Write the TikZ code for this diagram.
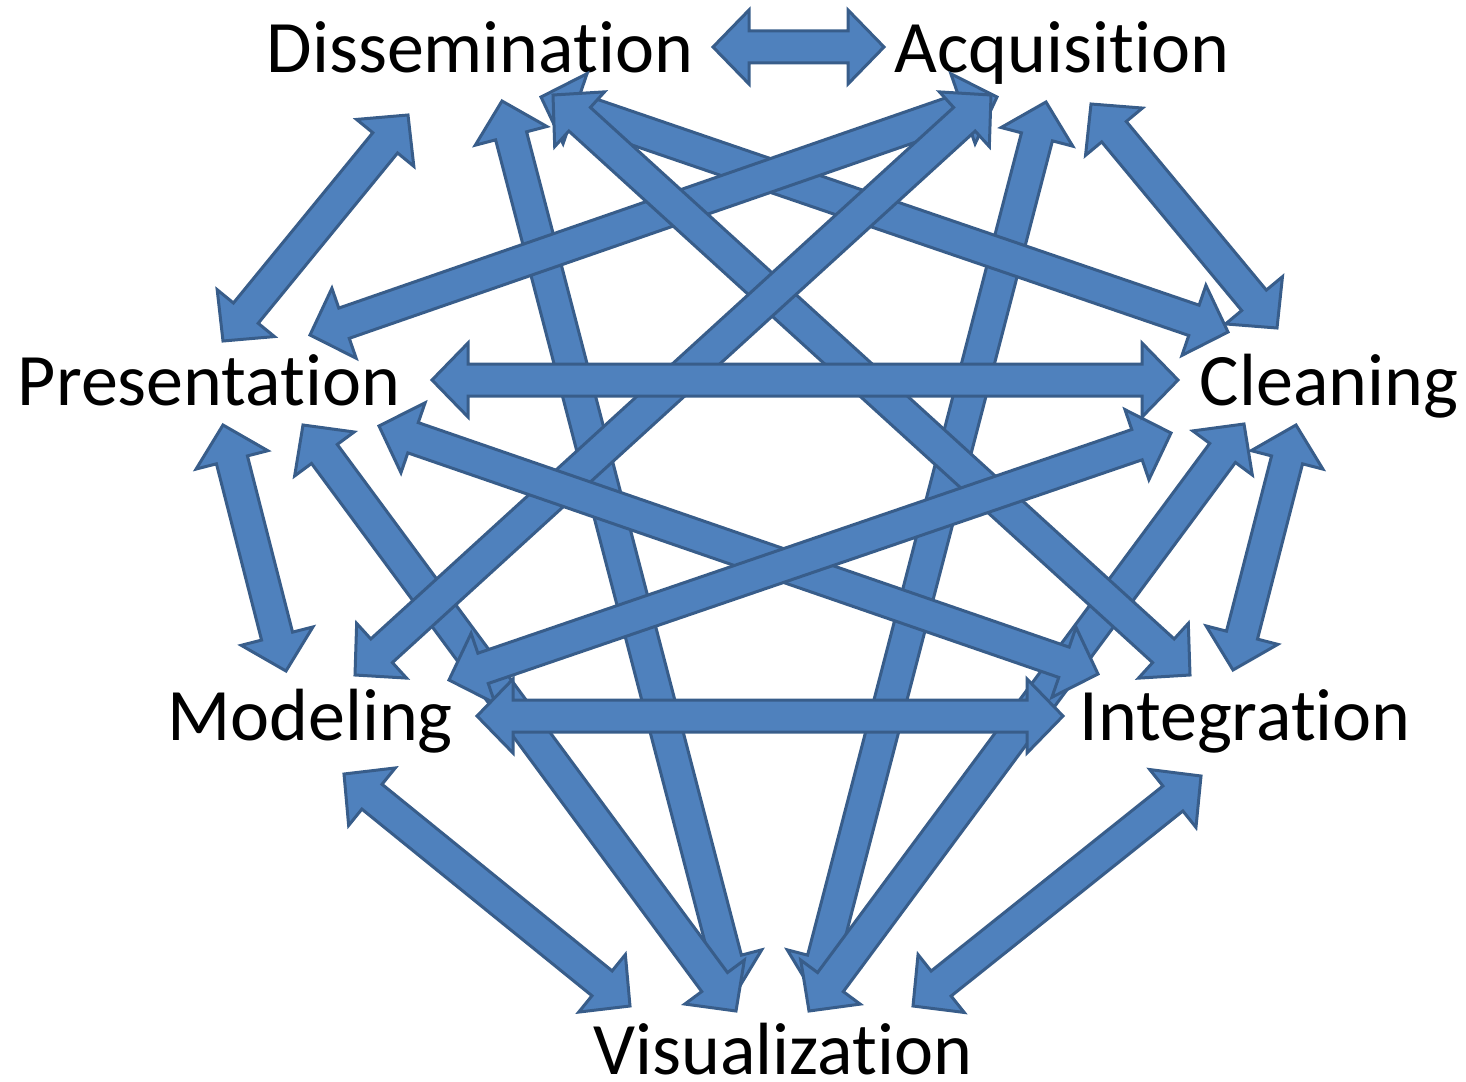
\documentclass[tikz,border=0pt]{standalone}
\usepackage{fontspec}
\setmainfont{Carlito}[Ligatures=NoCommon]
\usetikzlibrary{calc}
\definecolor{arrfill}{HTML}{4F81BD}
\definecolor{arrline}{HTML}{385D8A}
\tikzset{
  blockarrow/.style={fill=arrfill, draw=arrline, line width=3pt, line join=miter},
  lbl/.style={font=\fontsize{74}{88}\selectfont, anchor=base, inner sep=0pt}
}
\def\ahl{36pt}
\def\ahw{37pt}
\def\asw{16pt}
\newcommand\dblarr[2]{%
  \filldraw[blockarrow] (#1)
    -- ($(#1)!\ahl!(#2)!\ahw!90:(#2)$)
    -- ($(#1)!\ahl!(#2)!\asw!90:(#2)$)
    -- ($(#2)!\ahl!(#1)!\asw!-90:(#1)$)
    -- ($(#2)!\ahl!(#1)!\ahw!-90:(#1)$)
    -- (#2)
    -- ($(#2)!\ahl!(#1)!\ahw!90:(#1)$)
    -- ($(#2)!\ahl!(#1)!\asw!90:(#1)$)
    -- ($(#1)!\ahl!(#2)!\asw!-90:(#2)$)
    -- ($(#1)!\ahl!(#2)!\ahw!-90:(#2)$)
    -- cycle;}
\begin{document}
\begin{tikzpicture}[x=1pt,y=-1pt]
\useasboundingbox (0,0) rectangle (1466,1081);
% labels
\node[lbl] (D) at (480,72) {Dissemination};
\node[lbl] (A) at (1062,72) {Acquisition};
\node[lbl] (P) at (209,405) {Presentation};
\node[lbl] (C) at (1329,405) {Cleaning};
\node[lbl] (M) at (310,740) {Modeling};
\node[lbl] (I) at (1245,740) {Integration};
\node[lbl] (V) at (783,1074) {Visualization};
% arrow ends
\coordinate (da1) at (713,47);   \coordinate (da2) at (884,47);
\coordinate (dp1) at (408,115);  \coordinate (dp2) at (223,341);
\coordinate (ac1) at (1091,104); \coordinate (ac2) at (1277,328);
\coordinate (pm1) at (223,425);  \coordinate (pm2) at (286,671);
\coordinate (ci1) at (1296,425); \coordinate (ci2) at (1233,670);
\coordinate (mv1) at (344,774);  \coordinate (mv2) at (630,1006);
\coordinate (iv1) at (1201,776); \coordinate (iv2) at (913,1006);
\coordinate (pc1) at (432,380);  \coordinate (pc2) at (1178,380);
\coordinate (mi1) at (477,716);  \coordinate (mi2) at (1063,716);
\coordinate (dv1) at (502,101);  \coordinate (dv2) at (735,994);
\coordinate (av1) at (1046,102); \coordinate (av2) at (814,994);
\coordinate (dc1) at (541,97);   \coordinate (dc2) at (1228,332);
\coordinate (di1) at (553,95);   \coordinate (di2) at (1190,675);
\coordinate (ap1) at (997,97);   \coordinate (ap2) at (310,335);
\coordinate (am1) at (991,95);   \coordinate (am2) at (355,675);
\coordinate (pi1) at (379,426);  \coordinate (pi2) at (1098,674);
\coordinate (cm1) at (1171,433); \coordinate (cm2) at (449,680);
\coordinate (pv1) at (303,425);  \coordinate (pv2) at (736,1011);
\coordinate (cv1) at (1244,424); \coordinate (cv2) at (809,1011);
% arrows
\dblarr{da1}{da2}
\dblarr{dp1}{dp2}
\dblarr{ac1}{ac2}
\dblarr{pm1}{pm2}
\dblarr{ci1}{ci2}
\dblarr{mv1}{mv2}
\dblarr{iv1}{iv2}
\dblarr{dv1}{dv2}
\dblarr{av1}{av2}
\dblarr{pv1}{pv2}
\dblarr{cv1}{cv2}
\dblarr{dc1}{dc2}
\dblarr{ap1}{ap2}
\dblarr{di1}{di2}
\dblarr{am1}{am2}
\dblarr{pi1}{pi2}
\dblarr{cm1}{cm2}
\dblarr{pc1}{pc2}
\dblarr{mi1}{mi2}
\end{tikzpicture}
\end{document}
